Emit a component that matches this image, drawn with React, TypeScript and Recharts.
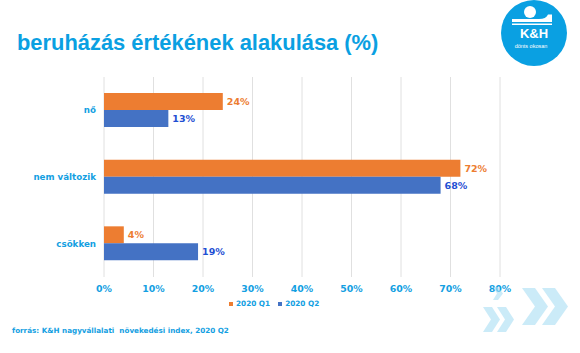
import React from "react"
import {
  Bar,
  BarChart,
  CartesianGrid,
  LabelList,
  Legend,
  XAxis,
  YAxis,
} from "recharts"

const categories = ["nő", "nem változik", "csökken"]
const q1Values = [24, 72, 4]
const q2Values = [13, 68, 19]
const xTicks = [0, 10, 20, 30, 40, 50, 60, 70, 80]
const seriesNames = ["2020 Q1", "2020 Q2"]

const data = categories.map((name, i) => ({
  name,
  q1: q1Values[i],
  q2: q2Values[i],
}))

const BLUE_TEXT = "#13a0e2"
const ORANGE = "#ED7D31"
const BLUE = "#4472C4"
const FONT = "'DejaVu Sans', Verdana, sans-serif"

function LegendContent() {
  const items = [
    { label: seriesNames[0], color: ORANGE },
    { label: seriesNames[1], color: BLUE },
  ]
  return (
    <div style={{ display: "flex", alignItems: "center", fontFamily: FONT }}>
      {items.map((it) => (
        <div key={it.label} style={{ display: "flex", alignItems: "center", marginRight: 8 }}>
          <span style={{ width: 4, height: 4, background: it.color, marginRight: 3, display: "inline-block" }} />
          <span style={{ fontSize: 7.3, fontWeight: "bold", color: BLUE_TEXT }}>{it.label}</span>
        </div>
      ))}
    </div>
  )
}

function Logo() {
  return (
    <svg width={580} height={353} style={{ position: "absolute", left: 0, top: 0, pointerEvents: "none" }}>
      <circle cx={534} cy={33} r={33} fill="#0aa0e2" />
      <circle cx={530} cy={12} r={6} fill="#fff" />
      <path d="M512,19 L539,19 Q546,19 548,14.5 L552,14.5 L552,22 L512,22 Z" fill="#fff" />
      <rect x={512} y={23.5} width={40} height={1.5} fill="#fff" />
      <text x={534} y={38} textAnchor="middle" fill="#fff" fontSize={13} fontWeight="bold"
        fontFamily="'Liberation Sans', Arial, sans-serif">K&amp;H</text>
      <text x={531} y={47.5} textAnchor="middle" fill="#fff" fontSize={5.5}
        fontFamily="'Liberation Sans', Arial, sans-serif">dönts okosan</text>
      <g fill="#aadff5" opacity={0.6}>
        <polygon points="522,288 535,288 548,306.5 535,325 522,325 535,306.5" />
        <polygon points="542,288 555,288 568,306.5 555,325 542,325 555,306.5" />
        <polygon points="483,307 492,307 500,319.5 492,332 483,332 491,319.5" />
        <polygon points="497,307 506,307 514,319.5 506,332 497,332 505,319.5" />
        <polygon points="493,287 498,287 503,293.5 498,300 493,300 497,293.5" />
      </g>
    </svg>
  )
}

export default function App() {
  return (
    <div style={{ position: "relative", width: 580, height: 353, background: "#fff", overflow: "hidden" }}>
      <style>{`body{margin:0}`}</style>
      <div
        style={{
          position: "absolute",
          left: 17,
          top: 30,
          fontFamily: "'Liberation Sans', Arial, sans-serif",
          fontWeight: "bold",
          fontSize: 21.9,
          color: "#0aa0e2",
          whiteSpace: "nowrap",
          lineHeight: "25px",
        }}
      >
        beruházás értékének alakulása (%)
      </div>
      <div style={{ position: "absolute", left: 0, top: 0 }}>
        <BarChart
          width={580}
          height={353}
          data={data}
          layout="vertical"
          margin={{ top: 77, right: 80, bottom: 46, left: 0 }}
          barCategoryGap="24%"
          barGap={0}
        >
          <CartesianGrid horizontal={false} stroke="#e0e0e0" />
          <XAxis
            type="number"
            domain={[0, 80]}
            ticks={xTicks}
            tickFormatter={(v) => `${v}%`}
            axisLine={false}
            tickLine={false}
            height={30}
            tick={{ fill: BLUE_TEXT, fontSize: 9.4, fontWeight: "bold", fontFamily: FONT }}
          />
          <YAxis
            type="category"
            dataKey="name"
            width={104}
            axisLine={false}
            tickLine={false}
            tick={{ fill: BLUE_TEXT, fontSize: 8.7, fontWeight: "bold", fontFamily: FONT }}
          />
          <Legend
            layout="horizontal"
            verticalAlign="middle"
            align="center"
            content={<LegendContent />}
            wrapperStyle={{ top: 299, left: 229, width: 120 }}
          />
          <Bar dataKey="q1" name={seriesNames[0]} fill={ORANGE} isAnimationActive={false}>
            <LabelList
              dataKey="q1"
              position="right"
              offset={4}
              formatter={(v: number) => `${v}%`}
              style={{ fill: ORANGE, fontSize: 9.5, fontWeight: "bold", fontFamily: FONT }}
            />
          </Bar>
          <Bar dataKey="q2" name={seriesNames[1]} fill={BLUE} isAnimationActive={false}>
            <LabelList
              dataKey="q2"
              position="right"
              offset={4}
              formatter={(v: number) => `${v}%`}
              style={{ fill: "#1f4fd3", fontSize: 9.5, fontWeight: "bold", fontFamily: FONT }}
            />
          </Bar>
        </BarChart>
      </div>
      <div
        style={{
          position: "absolute",
          left: 12,
          top: 326,
          fontFamily: FONT,
          fontWeight: "bold",
          fontSize: 7.2,
          color: BLUE_TEXT,
          whiteSpace: "pre",
          lineHeight: "10px",
        }}
      >
        {"forrás: K&H nagyvállalati  növekedési index, 2020 Q2"}
      </div>
      <Logo />
    </div>
  )
}
